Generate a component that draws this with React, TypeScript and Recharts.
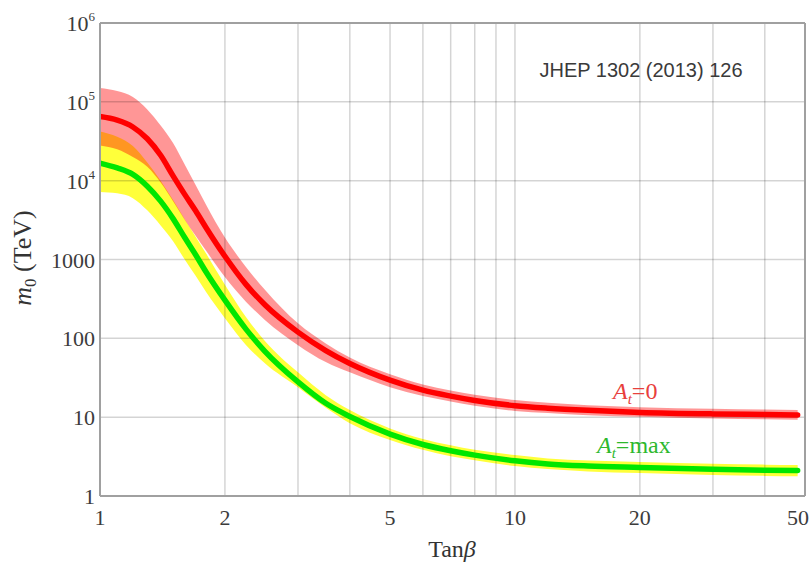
import React from "react";
import { ComposedChart, Line, Area, XAxis, YAxis, ReferenceLine } from "recharts";

// tan(beta) sample points
const tanBeta = [1, 1.1, 1.2, 1.3, 1.4, 1.5, 1.6, 1.7, 1.8, 2, 2.25, 2.5, 3, 3.5, 4, 5, 6, 7, 8, 10, 12, 15, 20, 30, 40, 48];

// A_t = 0 (red line + pink band), m0 in TeV
const redMid = [65000, 58500, 48000, 34000, 21000, 11500, 6700, 4150, 2550, 1100, 480, 265, 120, 70, 48, 29.5, 22, 18.5, 16.3, 14, 13, 12.2, 11.5, 11, 10.8, 10.65];
const redHi = [150000, 137000, 115000, 80000, 50000, 30000, 16000, 8800, 5000, 1900, 800, 410, 155, 86, 57, 35, 26, 21.8, 19.2, 16.5, 15.2, 14.2, 13.4, 12.8, 12.5, 12.3];
const redLo = [28000, 25000, 20000, 15000, 9500, 5500, 3200, 2000, 1300, 600, 290, 170, 82, 50, 37, 24, 18.5, 15.8, 14, 12, 11.3, 10.6, 10.1, 9.6, 9.4, 9.3];

// A_t = max (green line + yellow band)
const greenMid = [16700, 14500, 12000, 8500, 5500, 3300, 1900, 1150, 700, 305, 130, 68, 28, 15, 10.2, 6.1, 4.5, 3.75, 3.3, 2.8, 2.55, 2.4, 2.3, 2.18, 2.12, 2.1];
const greenHi = [42000, 36000, 27500, 17000, 10000, 5700, 3250, 1950, 1200, 480, 185, 92, 37, 19, 12.3, 7.2, 5.3, 4.4, 3.85, 3.3, 3.0, 2.82, 2.7, 2.56, 2.5, 2.48];
const greenLo = [7200, 6900, 6000, 4200, 2700, 1700, 1000, 620, 390, 180, 82, 48, 24, 13.2, 8.4, 5.15, 3.85, 3.2, 2.85, 2.4, 2.2, 2.05, 1.96, 1.85, 1.8, 1.78];

const xTicks = [1, 2, 5, 10, 20, 50];
const yTicks = [1, 10, 100, 1000, 10000, 100000, 1000000];
const xGrid = [2, 3, 4, 5, 6, 7, 8, 9, 10, 20, 30, 40];
const yGrid = [10, 100, 1000, 10000, 100000];
const yMinor = [1, 10, 100, 1000, 10000, 100000].flatMap((d) => [2, 3, 4, 5, 6, 7, 8, 9].map((k) => k * d));

const data = tanBeta.map((t, i) => ({
  t,
  red: redMid[i],
  redBand: [redLo[i], redHi[i]],
  green: greenMid[i],
  greenBand: [greenLo[i], greenHi[i]],
}));

const SERIF = "'Liberation Serif', 'DejaVu Serif', serif";
const SANS = "'Liberation Sans', Arial, sans-serif";
const FRAME = "#a0a0a0";
const GRID = "#000";

function XTick({ x, y, payload }: any) {
  // last label sits against the page edge
  const dx = payload.value === 50 ? -7 : 0;
  return (
    <text x={x + dx} y={y} dy="0.71em" textAnchor="middle" fontFamily={SERIF} fontSize={22} fill="#3c3c3c">
      {payload.value}
    </text>
  );
}

function YTick({ x, y, payload }: any) {
  const v = payload.value;
  const exp = Math.round(Math.log10(v));
  if (exp >= 4) {
    return (
      <text x={x} y={y} dy={8} textAnchor="end" fontFamily={SERIF} fontSize={22} fill="#3c3c3c">
        <tspan>10</tspan>
        <tspan dy={-10} fontSize={13}>{exp}</tspan>
      </text>
    );
  }
  return (
    <text x={x} y={y} dy={8} textAnchor="end" fontFamily={SERIF} fontSize={22} fill="#3c3c3c">
      {v}
    </text>
  );
}

const blank = () => <g />;

export default function App() {
  return (
    <div style={{ position: "absolute", left: 0, top: 0, width: 812, height: 564, background: "#fff" }}>
      <ComposedChart width={812} height={564} data={data} margin={{ top: 23, right: 7, bottom: 38, left: 30 }}>
        <XAxis dataKey="t" type="number" scale="log" domain={[1, 50]} ticks={xTicks} interval={0} allowDataOverflow
          height={30} tickSize={0} tickMargin={13} tick={<XTick />} axisLine={{ stroke: FRAME, strokeWidth: 2 }} />
        <XAxis xAxisId="minor" type="number" scale="log" domain={[1, 50]} ticks={xGrid} interval={0} allowDataOverflow
          height={0} mirror tickSize={5} tick={blank} axisLine={false} tickLine={{ stroke: FRAME, strokeWidth: 1.5 }} />
        <YAxis type="number" scale="log" domain={[1, 1000000]} ticks={yTicks} interval={0} allowDataOverflow
          width={70} tickSize={0} tickMargin={5} tick={<YTick />} axisLine={{ stroke: FRAME, strokeWidth: 2 }} />
        <YAxis yAxisId="minorL" type="number" scale="log" domain={[1, 1000000]} ticks={yMinor} interval={0} allowDataOverflow
          width={0} mirror tickSize={4} tick={blank} axisLine={false} tickLine={{ stroke: FRAME, strokeWidth: 1.5 }} />
        <YAxis yAxisId="minorR" orientation="right" type="number" scale="log" domain={[1, 1000000]} ticks={yMinor} interval={0} allowDataOverflow
          width={0} mirror tickSize={4} tick={blank} axisLine={false} tickLine={{ stroke: FRAME, strokeWidth: 1.5 }} />

        <Area dataKey="greenBand" type="monotone" fill="#ffff3a" fillOpacity={1} stroke="none" isAnimationActive={false} />
        <Area dataKey="redBand" type="monotone" fill="#ff0000" fillOpacity={0.41} stroke="none" isAnimationActive={false} />

        {xGrid.map((v) => (
          <ReferenceLine key={"x" + v} x={v} stroke={GRID} strokeOpacity={0.17} strokeWidth={1.5} />
        ))}
        {yGrid.map((v) => (
          <ReferenceLine key={"y" + v} y={v} stroke={GRID} strokeOpacity={0.17} strokeWidth={1.5} />
        ))}
        <ReferenceLine y={1000000} stroke={FRAME} strokeWidth={2} />
        <ReferenceLine x={50} stroke={FRAME} strokeWidth={2} />

        <Line dataKey="red" type="monotone" stroke="#ff0000" strokeWidth={5.5} dot={false} strokeLinecap="round" isAnimationActive={false} />
        <Line dataKey="green" type="monotone" stroke="#00e600" strokeWidth={5.5} dot={false} strokeLinecap="round" isAnimationActive={false} />
      </ComposedChart>

      <svg width={812} height={564} style={{ position: "absolute", left: 0, top: 0, pointerEvents: "none" }}>
        <text x={641} y={77} textAnchor="middle" fontFamily={SANS} fontSize={20} fill="#3a3a3a">JHEP 1302 (2013) 126</text>
        <text x={613} y={399} fontFamily={SERIF} fontSize={24} fill="#e8403c">
          <tspan fontStyle="italic">A</tspan>
          <tspan fontStyle="italic" fontSize={15} dy={5}>t</tspan>
          <tspan dy={-5}>=0</tspan>
        </text>
        <text x={597} y={453} fontFamily={SERIF} fontSize={24} fill="#2db82d">
          <tspan fontStyle="italic">A</tspan>
          <tspan fontStyle="italic" fontSize={15} dy={5}>t</tspan>
          <tspan dy={-5}>=max</tspan>
        </text>
        <text transform="translate(31,258) rotate(-90)" textAnchor="middle" fontFamily={SERIF} fontSize={26} fill="#333">
          <tspan fontStyle="italic">m</tspan>
          <tspan fontSize={17} dy={5}>0</tspan>
          <tspan dy={-5}> (TeV)</tspan>
        </text>
        <text x={452} y={557} textAnchor="middle" fontFamily={SERIF} fontSize={24} fill="#333">
          <tspan>Tan</tspan>
          <tspan fontStyle="italic">β</tspan>
        </text>
      </svg>
    </div>
  );
}
